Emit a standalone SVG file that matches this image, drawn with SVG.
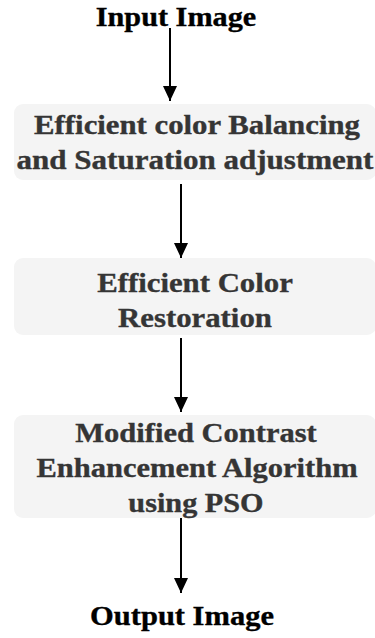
<svg xmlns="http://www.w3.org/2000/svg" width="375" height="638" viewBox="0 0 375 638">
  <style>
    .box { fill: #f4f4f4; stroke: none; }
    .lbl { font-family: "Liberation Serif", "Times New Roman", serif; font-weight: bold; font-size: 27px; text-anchor: middle; fill: #353535; stroke: #353535; stroke-width: 0.35; }
    .io { fill: #000000; stroke: #000000; }
    .wire { stroke: #000000; stroke-width: 2; fill: none; marker-end: url(#head); }
  </style>
  <defs>
    <marker id="head" markerUnits="userSpaceOnUse" markerWidth="16" markerHeight="14" refX="15" refY="7" orient="auto" viewBox="0 0 16 14">
      <path d="M0,0 L15,7 L0,14 Z" fill="#000000"/>
    </marker>
  </defs>

  <rect width="375" height="638" fill="#ffffff"/>

  <g id="connectors">
    <line class="wire" x1="170" y1="28" x2="170" y2="101"/>
    <line class="wire" x1="181" y1="184" x2="181" y2="258"/>
    <line class="wire" x1="181" y1="338" x2="181" y2="412"/>
    <line class="wire" x1="181" y1="517" x2="181" y2="593"/>
  </g>

  <!-- labels are set in a slightly widened serif (x-scale 1.13) -->
  <g id="input">
    <text class="lbl io" transform="translate(176 26) scale(1.12 1)">Input Image</text>
  </g>

  <g id="balance">
    <rect class="box" x="14" y="104" width="362" height="76" rx="9"/>
    <text class="lbl" transform="translate(197 134) scale(1.14 1)">Efficient color Balancing</text>
    <text class="lbl" transform="translate(195 169) scale(1.15 1)">and Saturation adjustment</text>
  </g>

  <g id="restoration">
    <rect class="box" x="14" y="258" width="362" height="77" rx="9"/>
    <text class="lbl" transform="translate(195 292) scale(1.14 1)">Efficient Color</text>
    <text class="lbl" transform="translate(195 327) scale(1.14 1)">Restoration</text>
  </g>

  <g id="contrast">
    <rect class="box" x="14" y="415" width="362" height="103" rx="9"/>
    <text class="lbl" transform="translate(196 442) scale(1.13 1)">Modified Contrast</text>
    <text class="lbl" transform="translate(197 477) scale(1.13 1)">Enhancement Algorithm</text>
    <text class="lbl" transform="translate(196 512) scale(1.12 1)">using PSO</text>
  </g>

  <g id="output">
    <text class="lbl io" transform="translate(182 625) scale(1.13 1)">Output Image</text>
  </g>
</svg>
